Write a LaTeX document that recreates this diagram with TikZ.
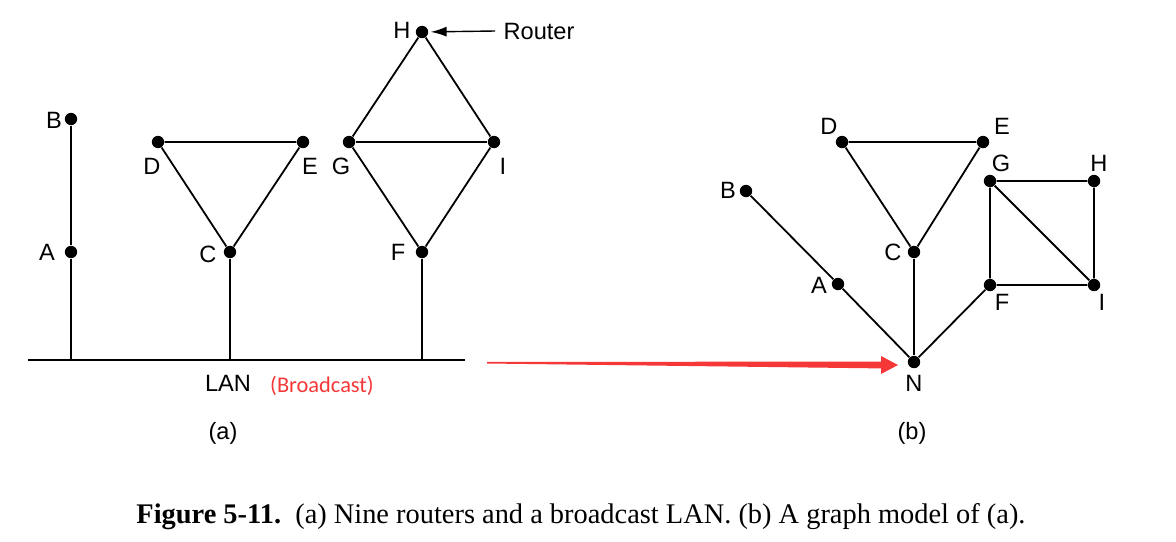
\documentclass[tikz,border=0pt]{standalone}
\usepackage{fontspec}
\setmainfont{Liberation Serif}
\newfontfamily\labelfont{Liberation Sans}
\newfontfamily\notefont{Carlito}
\usetikzlibrary{arrows.meta, calc}
\definecolor{notered}{RGB}{245,55,55}
\tikzstyle{router} = [circle, fill=black, inner sep=0pt, minimum size=6.2pt]
\tikzstyle{lbl} = [inner sep=0pt, font=\labelfont\fontsize{11.8}{13}\selectfont]
\tikzstyle{note} = [inner sep=0pt, text=notered, font=\notefont\fontsize{11.2}{13}\selectfont]
\tikzstyle{link} = [line width=0.9pt]
\tikzstyle{pointer} = [line width=0.7pt, -{Latex[length=8pt, width=5pt]}, shorten >=1pt]

\begin{document}
\begin{tikzpicture}[x=0.5pt, y=-0.5pt]
    \useasboundingbox (0,0) rectangle (1176,541);
    % (a) routers on the LAN
    \node (aB) [router] at (71,119) {};
    \node (aA) [router] at (71,252) {};
    \node (aD) [router] at (158,142) {};
    \node (aE) [router] at (303,142) {};
    \node (aC) [router] at (230,252) {};
    \node (aH) [router] at (422,32) {};
    \node (aG) [router] at (349,142) {};
    \node (aI) [router] at (494,142) {};
    \node (aF) [router] at (422,252) {};
    \coordinate (lanL) at (28,360);
    \coordinate (lanR) at (465,360);
    \coordinate (lanA) at (71,360);
    \coordinate (lanC) at (230,360);
    \coordinate (lanF) at (422,360);
    \draw [link] (lanL) -- (lanR);
    \draw [link] (aB) -- (aA) -- (lanA);
    \draw [link] (aC) -- (lanC);
    \draw [link] (aF) -- (lanF);
    \draw [link] (aD) -- (aE) -- (aC) -- (aD);
    \draw [link] (aH) -- (aG) -- (aF) -- (aI) -- (aH);
    \draw [link] (aG) -- (aI);
    \node (laB) [lbl] at (54,120) {B};
    \node (laA) [lbl] at (47,252) {A};
    \node (laD) [lbl] at (152,166) {D};
    \node (laE) [lbl] at (310,166) {E};
    \node (laC) [lbl] at (208,254) {C};
    \node (laH) [lbl] at (402,30) {H};
    \node (laG) [lbl] at (341,166) {G};
    \node (laI) [lbl] at (503,166) {I};
    \node (laF) [lbl] at (398,252) {F};
    \node (router) [lbl] at (539,31) {Router};
    \draw [pointer] (router.west) ++(-8,0) coordinate (rtail) (rtail) -- (aH);
    \node (lan) [lbl] at (228,383) {LAN};
    \node (bcast) [note] at (322,386) {(Broadcast)};
    \node (capa) [lbl] at (223,433) {(a)};
    % (b) graph model
    \node (bD) [router] at (842,142) {};
    \node (bE) [router] at (983,142) {};
    \node (bC) [router] at (914,252) {};
    \node (bB) [router] at (746,191) {};
    \node (bA) [router] at (838,284) {};
    \node (bN) [router] at (914,362) {};
    \node (bG) [router] at (990,181) {};
    \node (bH) [router] at (1094,181) {};
    \node (bF) [router] at (990,285) {};
    \node (bI) [router] at (1094,285) {};
    \draw [link] (bD) -- (bE) -- (bC) -- (bD);
    \draw [link] (bC) -- (bN);
    \draw [link] (bB) -- (bA) -- (bN) -- (bF);
    \draw [link] (bG) -- (bH) -- (bI) -- (bF) -- (bG) -- (bI);
    \node (lbD) [lbl] at (829,126) {D};
    \node (lbE) [lbl] at (1002,126) {E};
    \node (lbG) [lbl] at (1001,163) {G};
    \node (lbH) [lbl] at (1099,163) {H};
    \node (lbB) [lbl] at (728,190) {B};
    \node (lbC) [lbl] at (893,252) {C};
    \node (lbA) [lbl] at (819,285) {A};
    \node (lbF) [lbl] at (1002,302) {F};
    \node (lbI) [lbl] at (1102,302) {I};
    \node (lbN) [lbl] at (914,383) {N};
    \node (capb) [lbl] at (912,433) {(b)};
    % red tapered arrow from the LAN to N
    \coordinate (atail) at (487,362.7);
    \coordinate (atip) at (898,365);
    \fill [notered] ($(atail)+(0,-0.8)$) -- ($(atip)+(-17,-3.4)$) -- ($(atip)+(-17,-9)$)
        -- (atip) -- ($(atip)+(-17,9)$) -- ($(atip)+(-17,3.4)$) -- ($(atail)+(0,0.8)$) -- cycle;
    % caption
    \node (caption) [inner sep=0pt, font=\fontsize{14.2}{16}\selectfont] at (581,517)
        {\textbf{Figure 5-11.}\ \ (a) Nine routers and a broadcast LAN. (b) A graph model of (a).};
\end{tikzpicture}
\end{document}
